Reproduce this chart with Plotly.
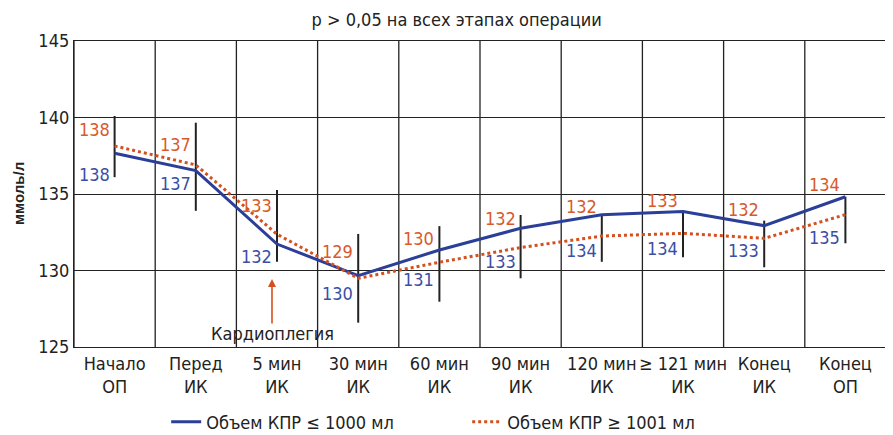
import plotly.graph_objects as go

# stages of the operation
stages = ["Начало<br>ОП", "Перед<br>ИК", "5 мин<br>ИК", "30 мин<br>ИК", "60 мин<br>ИК",
          "90 мин<br>ИК", "120 мин<br>ИК", "≥ 121 мин<br>ИК", "Конец<br>ИК", "Конец<br>ОП"]

# mean Na, mmol/l
low_vol = [137.66, 136.53, 131.73, 129.66, 131.34, 132.76, 133.65, 133.85, 132.93, 134.82]
high_vol = [138.14, 136.90, 132.37, 129.49, 130.54, 131.50, 132.25, 132.43, 132.10, 133.65]

# printed labels
low_lbl = [138, 137, 132, 130, 131, 133, 134, 134, 133, 135]
high_lbl = [138, 137, 133, 129, 130, 132, 132, 133, 132, 134]

# spread bars (bottom, top)
bar_lo = [136.1, 133.9, 130.57, 126.59, 127.96, 129.49, 130.57, 130.86, 130.21, 131.78]
bar_hi = [140.1, 139.66, 135.26, 132.39, 132.9, 133.63, 133.63, 133.89, 133.26, 134.82]

BLUE = "#2b3f99"
RED = "#d4501f"
FONT = "Liberation Sans Narrow, Arial Narrow, DejaVu Sans Condensed, Arial, sans-serif"

xs = list(range(len(stages)))

fig = go.Figure()

# spread bars
bx, by = [], []
for i in xs:
    bx += [i, i, None]
    by += [bar_lo[i], bar_hi[i], None]
fig.add_trace(go.Scatter(x=bx, y=by, mode="lines", line=dict(color="#222222", width=2),
                         showlegend=False, hoverinfo="skip"))

fig.add_trace(go.Scatter(x=xs, y=low_vol, mode="lines", name="Объем КПР ≤ 1000 мл",
                         line=dict(color=BLUE, width=3)))
fig.add_trace(go.Scatter(x=xs, y=high_vol, mode="lines", name="Объем КПР ≥ 1001 мл",
                         line=dict(color=RED, width=3, dash="dot")))

# label pixel offsets
up_px = [16, 20, 29, 27, 24, 29, 30, 33, 29, 30]
dn_px = [21, 13, 12, 18, 29, 33, 36, 37, 25, 41]
for i in xs:
    fig.add_annotation(x=i, y=high_vol[i], text=str(high_lbl[i]), showarrow=False,
                       xanchor="right", yanchor="middle", xshift=-3, yshift=up_px[i],
                       font=dict(color="#d9592b", size=18, family=FONT))
    fig.add_annotation(x=i, y=low_vol[i], text=str(low_lbl[i]), showarrow=False,
                       xanchor="right", yanchor="middle", xshift=-3, yshift=-dn_px[i],
                       font=dict(color="#3a4ea6", size=18, family=FONT))

# vertical grid between stages
for i in range(len(stages) + 1):
    fig.add_shape(type="line", xref="x", yref="paper", x0=i - 0.5, x1=i - 0.5, y0=0, y1=1,
                  line=dict(color="#222222", width=1.3), layer="below")

# cardioplegia arrow
fig.add_annotation(x=2, y=129.45, xshift=-5, ax=0, ay=46, text="", showarrow=True,
                   arrowhead=2, arrowsize=1, arrowwidth=1.6, arrowcolor=RED)
fig.add_annotation(x=2, y=125.85, xshift=-5, text="Кардиоплегия", showarrow=False,
                   font=dict(size=18, color="#222222", family=FONT))

# y title
fig.add_annotation(xref="paper", yref="paper", x=0, y=0.5, xanchor="center", yanchor="middle",
                   xshift=-56, textangle=-90, text="<b>ммоль/л</b>", showarrow=False,
                   font=dict(size=15, color="#222222", family="Liberation Sans, Arial, sans-serif"))

fig.update_layout(
    width=885, height=427,
    margin=dict(l=66, r=7, t=33, b=88, autoexpand=False),
    plot_bgcolor="white", paper_bgcolor="white",
    font=dict(family=FONT, color="#222222", size=18),
    title=dict(text="p > 0,05 на всех этапах операции", x=0.507, xanchor="center",
               y=0.972, yanchor="middle", font=dict(size=18, family=FONT, color="#222222")),
    legend=dict(orientation="h", x=0.1135, y=-0.245, xanchor="left", yanchor="middle",
                entrywidth=256, font=dict(size=18, family=FONT), bgcolor="rgba(0,0,0,0)"),
    showlegend=True,
)
fig.update_xaxes(range=[-0.5, len(stages) - 0.5], tickvals=xs, ticktext=stages,
                 showgrid=False, zeroline=False, showline=True, mirror=True,
                 linecolor="#222222", linewidth=1.3, ticks="", tickfont=dict(size=18))
fig.update_yaxes(range=[125, 145], dtick=5, showgrid=True, gridcolor="#222222", gridwidth=1.3,
                 zeroline=False, showline=True, mirror=True, linecolor="#222222", linewidth=1.3,
                 ticks="", tickfont=dict(size=18))

fig.write_html("out.html")
